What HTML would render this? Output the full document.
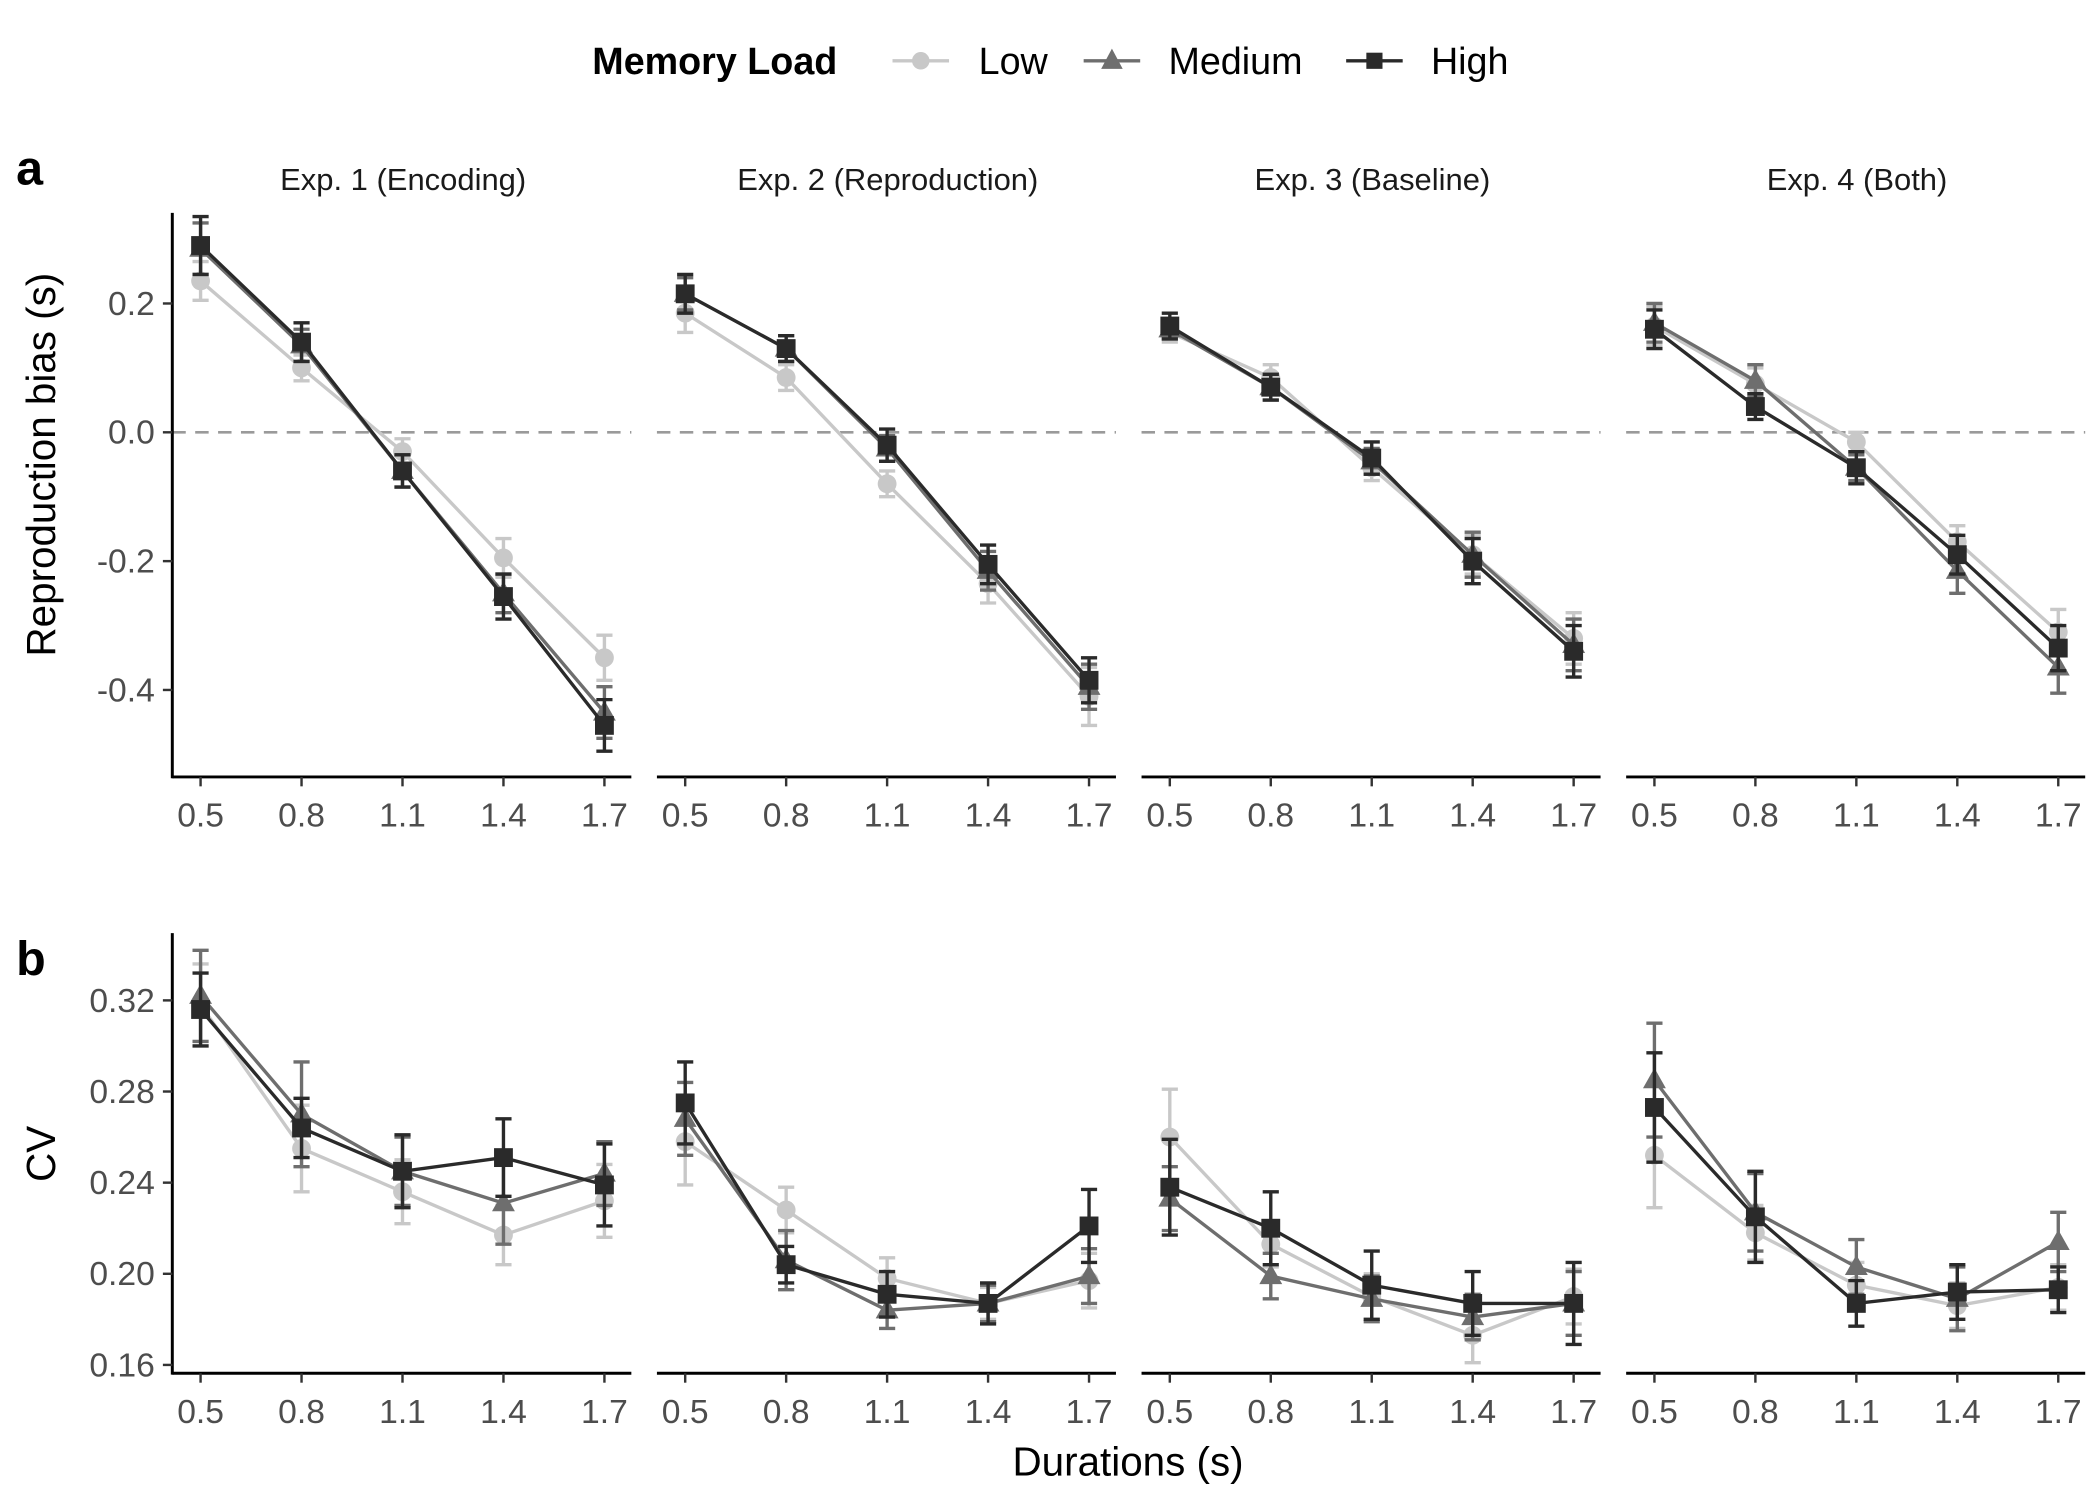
<!DOCTYPE html>
<html><head><meta charset="utf-8"><style>
html,body{margin:0;padding:0;background:#fff}
svg{display:block}
text{font-family:"Liberation Sans",Arial,sans-serif}
</style></head><body>
<svg id="chart" width="2100" height="1500" viewBox="0 0 1560 1114" xmlns="http://www.w3.org/2000/svg">
<g id="legend">
<text x="440" y="55" font-size="28" font-weight="bold" fill="#000">Memory Load</text>
<g><line x1="663" y1="45" x2="705" y2="45" stroke="#c8c8c8" stroke-width="2.5"/><circle cx="684" cy="45" r="6.5" fill="#c8c8c8"/><text x="727" y="55" font-size="28" fill="#000">Low</text></g>
<g><line x1="805" y1="45" x2="847" y2="45" stroke="#6e6e6e" stroke-width="2.5"/><polygon points="826,36 834,51 818,51" fill="#6e6e6e"/><text x="868" y="55" font-size="28" fill="#000">Medium</text></g>
<g><line x1="1000" y1="45" x2="1042" y2="45" stroke="#2a2a2a" stroke-width="2.5"/><rect x="1015" y="39" width="12" height="12" fill="#2a2a2a"/><text x="1063" y="55" font-size="28" fill="#000">High</text></g>
</g>
<text x="12" y="137" font-size="36" font-weight="bold">a</text>
<text x="12" y="724" font-size="36" font-weight="bold">b</text>
<text transform="translate(41,345) rotate(-90)" text-anchor="middle" font-size="30">Reproduction bias (s)</text>
<text transform="translate(41,857) rotate(-90)" text-anchor="middle" font-size="30">CV</text>
<text x="838" y="1096" text-anchor="middle" font-size="30">Durations (s)</text>
<g id="plots"></g>
</svg>
<script>
const durations=[0.5,0.8,1.1,1.4,1.7];
const durationLabels=["0.5","0.8","1.1","1.4","1.7"];
const experiments=["Exp. 1 (Encoding)","Exp. 2 (Reproduction)","Exp. 3 (Baseline)","Exp. 4 (Both)"];
const loads=["Low","Medium","High"];
const biasTicks=[0.2,0.0,-0.2,-0.4];
const biasTickLabels=["0.2","0.0","-0.2","-0.4"];
const cvTicks=[0.32,0.28,0.24,0.20,0.16];
const cvTickLabels=["0.32","0.28","0.24","0.20","0.16"];
const biasLow=[[0.235,0.10,-0.03,-0.195,-0.35],[0.185,0.085,-0.08,-0.235,-0.41],[0.155,0.085,-0.055,-0.19,-0.32],[0.165,0.075,-0.015,-0.17,-0.31]];
const biasMed=[[0.285,0.135,-0.06,-0.25,-0.435],[0.215,0.13,-0.025,-0.215,-0.395],[0.16,0.07,-0.045,-0.19,-0.33],[0.17,0.08,-0.055,-0.215,-0.365]];
const biasHigh=[[0.29,0.14,-0.06,-0.255,-0.455],[0.215,0.13,-0.02,-0.205,-0.385],[0.165,0.07,-0.04,-0.20,-0.34],[0.16,0.04,-0.055,-0.19,-0.335]];
const biasErrLow=[[0.03,0.02,0.02,0.03,0.035],[0.03,0.02,0.02,0.03,0.045],[0.015,0.02,0.02,0.03,0.04],[0.03,0.025,0.015,0.025,0.035]];
const biasErrMed=[[0.04,0.025,0.025,0.03,0.04],[0.025,0.02,0.02,0.03,0.035],[0.015,0.02,0.02,0.035,0.04],[0.03,0.025,0.02,0.035,0.04]];
const biasErrHigh=[[0.045,0.03,0.025,0.035,0.04],[0.03,0.02,0.025,0.03,0.035],[0.02,0.02,0.025,0.035,0.04],[0.03,0.02,0.025,0.03,0.035]];
const cvLow=[[0.318,0.255,0.236,0.217,0.232],[0.258,0.228,0.198,0.187,0.197],[0.260,0.213,0.190,0.173,0.190],[0.252,0.218,0.195,0.186,0.194]];
const cvMed=[[0.322,0.270,0.245,0.231,0.244],[0.268,0.206,0.184,0.187,0.199],[0.233,0.199,0.189,0.181,0.187],[0.285,0.227,0.203,0.189,0.214]];
const cvHigh=[[0.316,0.264,0.245,0.251,0.239],[0.275,0.204,0.191,0.187,0.221],[0.238,0.220,0.195,0.187,0.187],[0.273,0.225,0.187,0.192,0.193]];
const cvErrLow=[[0.018,0.019,0.014,0.013,0.016],[0.019,0.01,0.009,0.007,0.012],[0.021,0.01,0.01,0.012,0.012],[0.023,0.012,0.01,0.01,0.01]];
const cvErrMed=[[0.02,0.023,0.015,0.018,0.014],[0.016,0.013,0.008,0.008,0.012],[0.014,0.01,0.01,0.01,0.014],[0.025,0.017,0.012,0.014,0.013]];
const cvErrHigh=[[0.016,0.013,0.016,0.017,0.018],[0.018,0.008,0.01,0.009,0.016],[0.021,0.016,0.015,0.014,0.018],[0.024,0.02,0.01,0.012,0.01]];

const colors={Low:"#c8c8c8",Medium:"#6e6e6e",High:"#2a2a2a"};
const NS="http://www.w3.org/2000/svg";
const root=document.getElementById("plots");
function mk(tag,attrs,parent){const e=document.createElementNS(NS,tag);for(const k in attrs)e.setAttribute(k,attrs[k]);(parent||root).appendChild(e);return e;}
const panelLeft=[128,488,848,1208], panelW=341;
function xScale(p,d){return panelLeft[p]+21+(d-0.5)/1.2*300;}
const biasY=v=>321-v/0.2*95.7;
const cvY=v=>743+(0.32-v)/0.04*67.7;

function drawRow(row){
  const isBias=row==="bias";
  const top=isBias?158:693, axisY=isBias?577:1020;
  const yS=isBias?biasY:cvY;
  const means=isBias?{Low:biasLow,Medium:biasMed,High:biasHigh}:{Low:cvLow,Medium:cvMed,High:cvHigh};
  const errs=isBias?{Low:biasErrLow,Medium:biasErrMed,High:biasErrHigh}:{Low:cvErrLow,Medium:cvErrMed,High:cvErrHigh};
  const ticks=isBias?biasTicks:cvTicks, tl=isBias?biasTickLabels:cvTickLabels;
  for(let p=0;p<4;p++){
    const g=mk("g",{});
    
    
    if(isBias){
      const st=mk("text",{x:panelLeft[p]+panelW/2+1,y:141,"text-anchor":"middle","font-size":"23",fill:"#1a1a1a"},g);
      st.textContent=experiments[p];
      
      
      const zl=mk("line",{x1:panelLeft[p],x2:panelLeft[p]+panelW,y1:yS(0),y2:yS(0),stroke:"#9a9a9a","stroke-width":"2","stroke-dasharray":"10,7"},g);
      
      
    }
    const xa=mk("line",{x1:panelLeft[p],x2:panelLeft[p]+panelW,y1:axisY,y2:axisY,stroke:"#000","stroke-width":"2.2"},g);
    
    
    durations.forEach((d,i)=>{
      const x=xScale(p,d);
      mk("line",{x1:x,x2:x,y1:axisY,y2:axisY+7,stroke:"#333","stroke-width":"1.8"},g);
      const t=mk("text",{x:x,y:axisY+37,"text-anchor":"middle","font-size":"25",fill:"#4d4d4d"},g);
      t.textContent=durationLabels[i];
      
      
    });
    if(p===0){
      const ya=mk("line",{x1:128,x2:128,y1:top,y2:axisY+1,stroke:"#000","stroke-width":"2.2"},g);
      
      
      ticks.forEach((v,i)=>{
        const y=yS(v);
        mk("line",{x1:121,x2:128,y1:y,y2:y,stroke:"#333","stroke-width":"1.8"},g);
        const t=mk("text",{x:115,y:y+8.5,"text-anchor":"end","font-size":"25",fill:"#4d4d4d"},g);
        t.textContent=tl[i];
        
        
      });
    }
    loads.forEach(L=>{
      const c=colors[L], m=means[L][p], e=errs[L][p];
      const sg=mk("g",{},g);
      
      
      const pts=durations.map((d,i)=>xScale(p,d)+","+yS(m[i])).join(" ");
      mk("polyline",{points:pts,fill:"none",stroke:c,"stroke-width":"2.5"},sg);
      durations.forEach((d,i)=>{
        const x=xScale(p,d), y1=yS(m[i]+e[i]), y2=yS(m[i]-e[i]);
        const eb=mk("path",{d:`M${x-6},${y1}H${x+6}M${x},${y1}V${y2}M${x-6},${y2}H${x+6}`,stroke:c,"stroke-width":"2.5",fill:"none"},sg);
        
        
        const y=yS(m[i]);
        let mkEl;
        if(L==="Low") mkEl=mk("circle",{cx:x,cy:y,r:7,fill:c},sg);
        else if(L==="Medium") mkEl=mk("polygon",{points:`${x},${y-9} ${x+8.5},${y+6} ${x-8.5},${y+6}`,fill:c},sg);
        else mkEl=mk("rect",{x:x-7,y:y-7,width:14,height:14,fill:c},sg);
        
        
      });
    });
  }
}
drawRow("bias");
drawRow("cv");
</script>
</body></html>
